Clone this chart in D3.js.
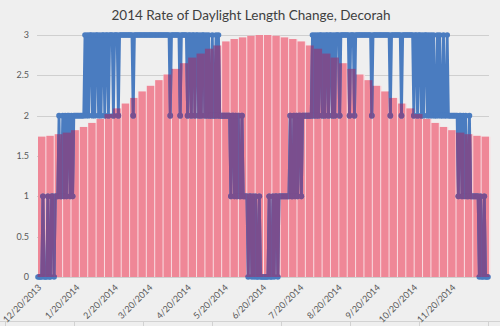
<!DOCTYPE html>
<html>
<head>
<meta charset="utf-8">
<script src="https://cdn.jsdelivr.net/npm/d3@7"></script>
<style>
  html, body { margin: 0; padding: 0; background: #efefef; }
  svg { display: block; }
</style>
</head>
<body>
<svg id="chart" width="500" height="326"></svg>
<script>
// Daily change in daylight length (minutes per day), starting 12/20/2013
const rateMinutes = [
  0,0,0,0,1,0,0,0,1,0,0,1,1,0,1,
  1,1,2,1,1,2,1,2,1,2,2,1,2,1,
  2,2,2,2,2,2,2,2,
  2,3,2,3,2,3,3,2,3,2,3,3,2,3,2,3,3,2,3,3,2,3,
  3,3,2,3,3,3,2,3,3,3,3,3,3,3,3,3,3,3,2,3,3,
  3,3,3,3,3,3,3,3,3,3,3,3,3,3,3,3,3,3,3,3,3,3,3,3,3,3,
  3,2,3,3,3,3,3,3,3,2,3,3,3,3,3,2,3,
  3,2,3,3,2,3,3,2,3,2,3,3,2,3,2,3,2,2,3,2,2,3,2,3,
  2,2,2,2,2,2,2,2,
  2,1,2,2,1,2,1,2,1,1,2,1,1,
  1,1,
  0,1,1,0,1,0,1,0,0,1,0,
  0,0,0,0,0,0,
  1,0,0,1,0,1,1,0,1,1,
  1,1,1,1,1,1,1,
  2,1,1,2,1,2,1,2,2,1,2,
  2,2,2,2,2,2,2,
  3,2,3,2,3,2,3,3,2,3,2,3,3,2,3,3,2,3,2,3,3,3,2,3,3,3,
  3,3,3,3,2,3,3,3,2,3,3,3,3,3,3,3,3,3,3,3,3,3,2,
  3,3,3,3,3,3,3,3,3,3,3,3,3,3,2,3,3,3,3,3,3,3,3,2,3,3,3,3,3,3,3,3,
  3,2,3,3,2,3,3,2,3,2,3,3,2,3,2,3,2,3,2,2,3,2,3,2,2,3,2,2,3,
  2,2,2,2,2,2,2,2,
  1,2,2,1,2,1,2,1,1,2,1,
  1,1,1,1,1,1,0,1,0,
  0,1,0,0,0
];

// Daylight length (scaled to the same axis), one column per period through the year
const daylight = [
  1.74, 1.75, 1.77, 1.79, 1.82, 1.86, 1.91, 1.96, 2.02, 2.09, 2.15, 2.22, 2.30, 2.37,
  2.44, 2.51, 2.58, 2.65, 2.72, 2.77, 2.83, 2.87, 2.92, 2.95, 2.97, 2.99, 3.00,
  3.00, 2.99, 2.97, 2.95, 2.92, 2.87, 2.83, 2.77, 2.72, 2.65, 2.58, 2.51, 2.44,
  2.37, 2.30, 2.22, 2.15, 2.09, 2.02, 1.96, 1.91, 1.86, 1.82, 1.79, 1.77, 1.75, 1.74
];

const yTickValues = [0, 0.5, 1, 1.5, 2, 2.5, 3];
const yTickLabels = ["0", "0.5", "1", "1.5", "2", "2.5", "3"];
const xTickLabels = ["12/20/2013", "1/20/2014", "2/20/2014", "3/20/2014", "4/20/2014",
  "5/20/2014", "6/20/2014", "7/20/2014", "8/20/2014", "9/20/2014", "10/20/2014", "11/20/2014"];

const titleText = "2014 Rate of Daylight Length Change, Decorah";

const svg = d3.select("#chart");
const W = 500, H = 326;
const plot = { left: 38, right: 488, top: 35, bottom: 277 };

const parse = d3.timeParse("%m/%d/%Y");
const startDate = parse("12/20/2013");
const dates = rateMinutes.map((_, i) => d3.timeDay.offset(startDate, i));

const x = d3.scaleTime()
  .domain([dates[0], dates[dates.length - 1]])
  .range([plot.left, plot.right]);
const y = d3.scaleLinear().domain([0, 3]).range([plot.bottom, plot.top]);
const xb = d3.scaleBand()
  .domain(d3.range(daylight.length))
  .range([plot.left, plot.right + 1])
  .paddingInner(0.12);

svg.append("rect").attr("width", W).attr("height", H).attr("fill", "#efefef");

// worksheet cell borders along the bottom
const cellEdges = [5, 74, 143, 212, 281, 350, 419, 488];
svg.append("line").attr("x1", 0).attr("x2", W).attr("y1", 321.5).attr("y2", 321.5)
  .attr("stroke", "#d2d2d2");
svg.selectAll("line.cell").data(cellEdges).join("line")
  .attr("class", "cell")
  .attr("x1", d => d + 0.5).attr("x2", d => d + 0.5)
  .attr("y1", 322).attr("y2", H)
  .attr("stroke", "#d2d2d2");

// title
svg.append("text")
  .attr("x", 251).attr("y", 20)
  .attr("text-anchor", "middle")
  .attr("font-family", "Lato, 'Open Sans', sans-serif")
  .attr("font-size", 13.5)
  .attr("fill", "#404040")
  .text(titleText);

// gridlines
svg.append("g").selectAll("line").data(yTickValues).join("line")
  .attr("x1", plot.left - 1).attr("x2", plot.right + 1)
  .attr("y1", d => Math.round(y(d)) + 0.5).attr("y2", d => Math.round(y(d)) + 0.5)
  .attr("stroke", "#cfcfcf");

// y labels
svg.append("g").selectAll("text").data(yTickValues).join("text")
  .attr("x", 29).attr("y", d => y(d))
  .attr("dy", "0.35em")
  .attr("text-anchor", "end")
  .attr("font-family", "Lato, 'Open Sans', sans-serif")
  .attr("font-size", 9)
  .attr("fill", "#595959")
  .text((d, i) => yTickLabels[i]);

// x labels, rotated
svg.append("g").selectAll("text").data(xTickLabels).join("text")
  .attr("transform", d => `translate(${x(parse(d)) + 4},${plot.bottom + 11}) rotate(-45)`)
  .attr("text-anchor", "end")
  .attr("font-family", "Lato, 'Open Sans', sans-serif")
  .attr("font-size", 9)
  .attr("fill", "#595959")
  .text(d => d);

// pale backing so the gaps between columns read as light seams
svg.append("g").selectAll("rect").data(daylight).join("rect")
  .attr("x", (d, i) => xb.step() * i + plot.left)
  .attr("width", xb.step() + 0.5)
  .attr("y", d => y(d))
  .attr("height", d => y(0) - y(d))
  .attr("fill", "#f9dde2");

// daylight columns
svg.append("g").selectAll("rect").data(daylight).join("rect")
  .attr("x", (d, i) => xb(i))
  .attr("width", xb.bandwidth())
  .attr("y", d => y(d))
  .attr("height", d => y(0) - y(d))
  .attr("fill", "#ef8797");

// clip matching the columns, used to tint the line where it passes over them
const clip = svg.append("clipPath").attr("id", "colClip");
clip.selectAll("rect").data(daylight).join("rect")
  .attr("x", (d, i) => xb(i) - 0.5)
  .attr("width", xb.bandwidth() + 1)
  .attr("y", d => y(d))
  .attr("height", d => y(0) - y(d));

const line = d3.line()
  .x((d, i) => x(dates[i]))
  .y(d => y(d));

function drawSeries(g, color) {
  g.append("path")
    .datum(rateMinutes)
    .attr("d", line)
    .attr("fill", "none")
    .attr("stroke", color)
    .attr("stroke-width", 2.8)
    .attr("stroke-linejoin", "round");
  g.selectAll("circle").data(rateMinutes).join("circle")
    .attr("cx", (d, i) => x(dates[i]))
    .attr("cy", d => y(d))
    .attr("r", 2.8)
    .attr("fill", color);
}

drawSeries(svg.append("g"), "#4a7cc0");
drawSeries(svg.append("g").attr("clip-path", "url(#colClip)"), "#7a4e8e");
</script>
</body>
</html>
